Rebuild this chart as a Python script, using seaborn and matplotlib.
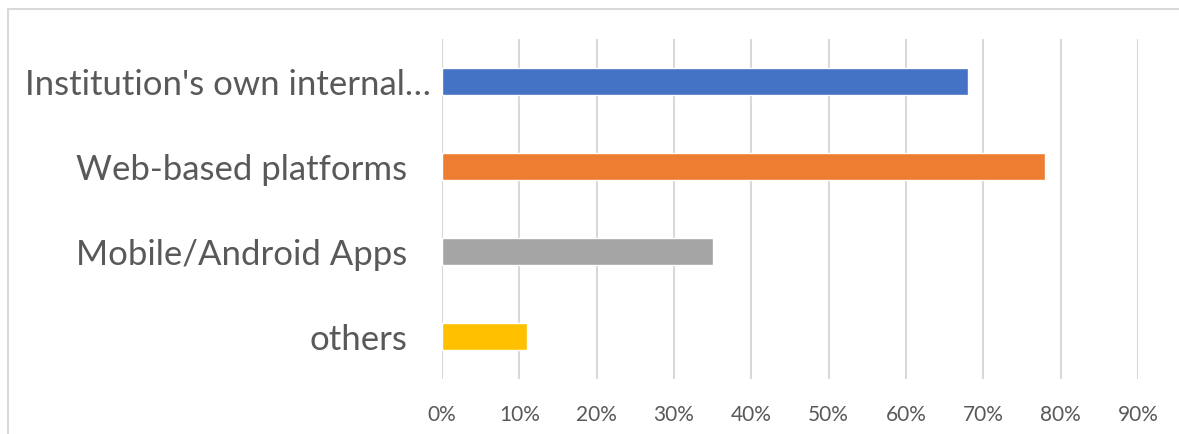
import matplotlib
matplotlib.use("Agg")
import matplotlib.pyplot as plt
import seaborn as sns
import pandas as pd
from matplotlib.ticker import PercentFormatter
from matplotlib.patches import Rectangle

categories = ["Institution's own internal…", "Web-based platforms", "Mobile/Android Apps", "others"]
shares = [0.68, 0.78, 0.35, 0.11]
colors = ["#4472C4", "#ED7D31", "#A5A5A5", "#FFC000"]
tick_vals = [0, 0.1, 0.2, 0.3, 0.4, 0.5, 0.6, 0.7, 0.8, 0.9]

df = pd.DataFrame({"cat": categories, "share": shares})

sns.set_style("white")
plt.rcParams["font.family"] = ["Lato", "DejaVu Sans"]

fig = plt.figure(figsize=(11.79, 4.35), dpi=100)
ax = fig.add_axes([442/1179, 1 - 380/435, (1138-442)/1179, 340/435])

sns.barplot(data=df, y="cat", x="share", hue="cat", palette=colors,
            width=0.31, orient="h", legend=False, ax=ax, saturation=1)

ax.set_xlim(0, 0.9)
ax.set_ylim(3.5, -0.5)
ax.set_xticks(tick_vals)
ax.xaxis.set_major_formatter(PercentFormatter(1.0, decimals=0))
ax.grid(axis="x", color="#D9D9D9", linewidth=1.5)
ax.set_axisbelow(True)
for s in ax.spines.values():
    s.set_visible(False)
ax.set_xlabel("")
ax.set_ylabel("")
ax.tick_params(axis="y", length=0, labelsize=25, labelcolor="#595959", pad=25)
ax.tick_params(axis="x", length=0, labelsize=15, labelcolor="#595959", pad=18)
ax.yaxis.get_major_ticks()[0].set_pad(8)

# light outer frame
fig.patches.append(Rectangle((8/1179, -0.1), 1.2, 1 - 10/435 + 0.1, transform=fig.transFigure,
                             fill=False, edgecolor="#D9D9D9", linewidth=1.5))

fig.savefig("out.png", dpi=100)
